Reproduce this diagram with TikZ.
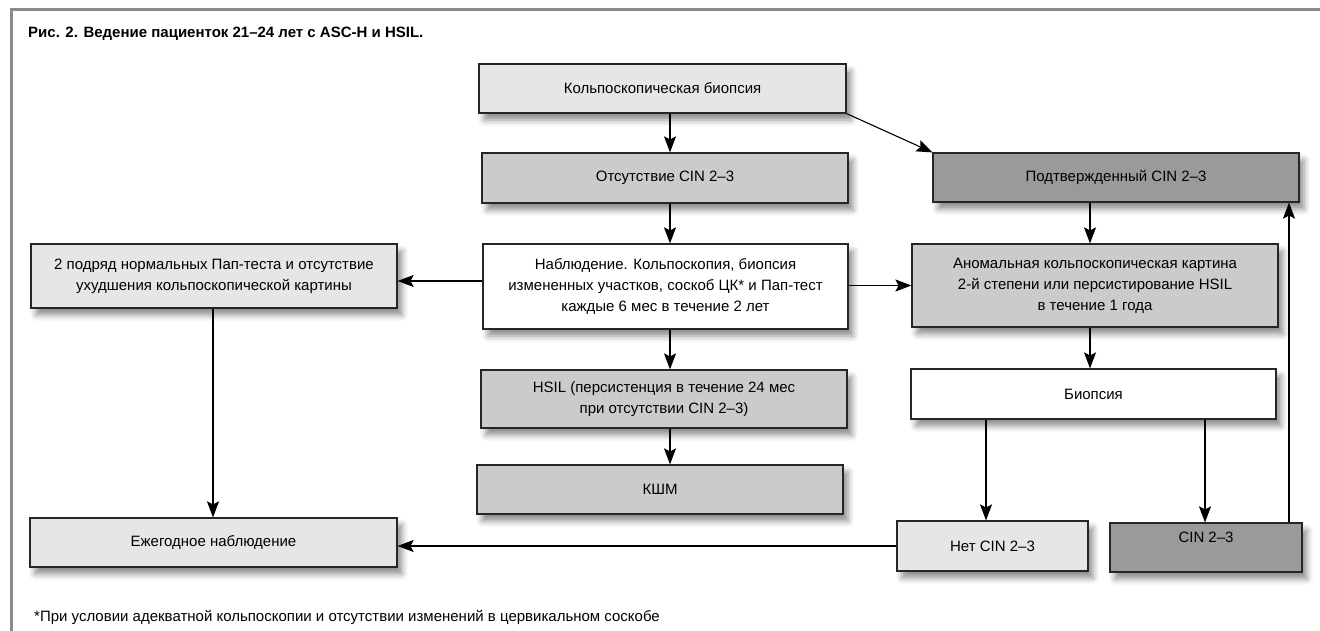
\documentclass[tikz,border=0pt]{standalone}
\usepackage{fontspec}
\setmainfont{Liberation Sans}
\usetikzlibrary{arrows.meta,shadows.blur}

\definecolor{boxlight}{HTML}{E6E6E6}
\definecolor{boxmid}{HTML}{CBCBCB}
\definecolor{boxdark}{HTML}{9A9A9A}
\definecolor{framegray}{HTML}{8C8C8C}

\tikzset{
  box/.style={draw=black!85, line width=1.2pt, minimum width=366pt, minimum height=49pt,
    align=center, inner sep=2pt, font=\fontsize{15}{21}\selectfont,
    blur shadow={shadow xshift=5pt, shadow yshift=-7pt, shadow blur radius=6pt, shadow opacity=45}},
  arr/.style={-{Stealth[length=16pt,width=12pt,inset=3pt]}, line width=1.1pt},
}

\begin{document}
\begin{tikzpicture}[x=1pt,y=1pt,yscale=-1,xscale=1]
  \useasboundingbox (0,0) rectangle (1320,631);
  %Frame
  \draw[framegray, line width=3pt] (11.5,640) -- (11.5,10) -- (1330,10);
  \node[anchor=west, inner sep=0pt, font=\bfseries\fontsize{15}{18}\selectfont] (title) at (28,34)
    {Рис. 2. Ведение пациенток 21–24 лет с ASC-H и HSIL.};

  %Centre column
  \node[box, fill=boxlight, minimum width=367pt] (kbiop) at (662.5,88.5) {Кольпоскопическая биопсия};
  \node[box, fill=boxmid, minimum height=50pt] (absent) at (665,178) {Отсутствие CIN 2–3};
  \node[box, fill=white, minimum width=365pt, minimum height=85pt] (observ) at (665.5,286.5)
    {Наблюдение. Кольпоскопия, биопсия\\измененных участков, соскоб ЦК* и Пап-тест\\каждые 6 мес в течение 2 лет};
  \node[box, fill=boxmid, minimum height=58pt] (hsil) at (664,399)
    {HSIL (персистенция в течение 24 мес\\при отсутствии CIN 2–3)};
  \node[box, fill=boxmid] (ksm) at (660,489.5) {КШМ};

  %Right column
  \node[box, fill=boxdark] (confirm) at (1116,177.5) {Подтвержденный CIN 2–3};
  \node[box, fill=boxmid, minimum height=83pt] (anomal) at (1095,285.5)
    {Аномальная кольпоскопическая картина\\2-й степени или персистирование HSIL\\в течение 1 года};
  \node[box, fill=white, minimum width=365pt, minimum height=50pt] (biopsy) at (1093.5,394) {Биопсия};
  \node[box, fill=boxlight, minimum width=191pt, minimum height=50pt] (nocin) at (992.5,546) {Нет CIN 2–3};
  \node[box, fill=boxdark, minimum width=192pt, text depth=20pt] (cin) at (1206,547.5) {CIN 2–3};

  %Left column
  \node[box, fill=boxlight, minimum height=64pt] (twopap) at (214,276)
    {2 подряд нормальных Пап-теста и отсутствие\\ухудшения кольпоскопической картины};
  \node[box, fill=boxlight, minimum width=367pt] (annual) at (213.5,542.5) {Ежегодное наблюдение};

  \node[anchor=west, inner sep=0pt, font=\fontsize{15}{18}\selectfont] (note) at (34,617)
    {*При условии адекватной кольпоскопии и отсутствии изменений в цервикальном соскобе};

  %Connectors
  \coordinate (cx) at (670,0);
  \coordinate (lx) at (213,0);
  \coordinate (ax) at (1090,0);
  \coordinate (nx) at (986,0);
  \coordinate (px) at (1205,0);
  \coordinate (rx) at (1289,0);
  \coordinate (ly) at (0,281);
  \draw[arr] (kbiop.south -| cx) -- (absent.north -| cx);
  \draw[arr] (absent.south -| cx) -- (observ.north -| cx);
  \draw[arr] (observ.south -| cx) -- (hsil.north -| cx);
  \draw[arr] (hsil.south -| cx) -- (ksm.north -| cx);
  \draw[arr] (kbiop.south east) -- (confirm.north west);
  \draw[arr] (observ.east |- anomal.west) -- (anomal.west);
  \draw[arr] (observ.west |- ly) -- (twopap.east |- ly);
  \draw[arr] (twopap.south -| lx) -- (annual.north -| lx);
  \draw[arr] (confirm.south -| ax) -- (anomal.north -| ax);
  \draw[arr] (anomal.south -| ax) -- (biopsy.north -| ax);
  \draw[arr] (biopsy.south -| nx) -- (nocin.north -| nx);
  \draw[arr] (biopsy.south -| px) -- (cin.north -| px);
  \draw[arr] (cin.north -| rx) -- (confirm.south -| rx);
  \draw[arr] (nocin.west) -- (annual.east |- nocin.west);
\end{tikzpicture}
\end{document}
